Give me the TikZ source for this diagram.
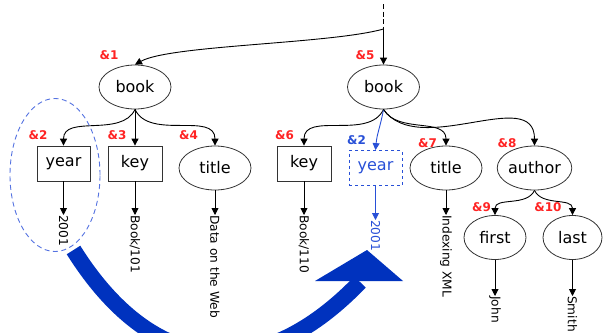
\documentclass[tikz,border=0pt]{standalone}
\usepackage{fontspec}
\setmainfont{DejaVu Sans}
\usetikzlibrary{arrows.meta,positioning,shapes.geometric}
\definecolor{amp}{RGB}{255,35,35}
\definecolor{mv}{RGB}{40,80,215}
\definecolor{ring}{RGB}{85,115,225}
\definecolor{big}{RGB}{0,50,190}
\tikzset{
  xt/.style={x=1pt, y=1pt},
  x el/.style={draw=black!80, line width=0.8pt, ellipse, minimum width=72pt, minimum height=44pt,
               inner sep=0pt, font=\fontsize{16}{16}\selectfont},
  x box/.style={draw=black!80, line width=0.8pt, rectangle, minimum width=53pt, minimum height=35pt,
                inner sep=0pt, font=\fontsize{16}{16}\selectfont},
  x moved/.style={x box, draw=mv, dashed, text=mv},
  x val/.style={rotate=-90, anchor=west, inner sep=0pt, font=\fontsize{12.2}{12.2}\selectfont},
  x id/.style={text=amp, inner sep=0pt, font=\bfseries\fontsize{12}{12}\selectfont},
  x arr/.style={line width=0.9pt, -{Triangle[length=7pt, width=7pt]}},
  x ring/.style={draw=ring, ellipse, line width=0.9pt, dash pattern=on 5pt off 3.5pt, inner sep=0pt},
}

\begin{document}
\begin{tikzpicture}[xt]
\clip (0,0) rectangle (604,-332);
% ---- root ----
\coordinate (rt) at (383.5,-4);
\coordinate (top) at (383.5,-29);
% ---- book &1 ----
\node[x el]  (bk1) at (135,-87) {book};
\node[x box] (yr1) at (63.5,-163.5) {year};
\node[x box, minimum width=54pt] (ky1) at (135,-163.5) {key};
\node[x el]  (tt1) at (215,-168) {title};
\node[x val] (v1) at (63.5,-215) {2001};
\node[x val] (v2) at (135,-215) {Book/101};
\node[x val] (v3) at (215,-215) {Data on the Web};
\node[x id] (n1) at (109,-55.5) {\&1};
\node[x id] (n2) at (38,-135) {\&2};
\node[x id] (n3) at (117,-135) {\&3};
\node[x id] (n4) at (188.5,-135) {\&4};
% ---- book &5 ----
\node[x el]    (bk2) at (383.5,-87) {book};
\node[x box, minimum width=54pt] (ky2) at (304,-163.5) {key};
\node[x moved] (yr2) at (375.5,-168) {year};
\node[x el]    (tt2) at (446,-168) {title};
\node[x el, minimum width=71pt] (au) at (534.5,-168) {author};
\node[x el, minimum width=62pt] (fs) at (495,-237.5) {first};
\node[x el, minimum width=59pt] (ls) at (572.5,-237.5) {last};
\node[x val] (v4) at (304,-215) {Book/110};
\node[x val, text=mv] (v5) at (375.5,-220) {2001};
\node[x val] (v6) at (446,-215) {Indexing XML};
\node[x val] (v7) at (495,-296) {John};
\node[x val] (v8) at (572.5,-296) {Smith};
\node[x id] (n5) at (365,-55.5) {\&5};
\node[x id] (n6) at (284.5,-135) {\&6};
\node[x id, text=mv] (n2b) at (356.5,-140) {\&2};
\node[x id] (n7) at (427.5,-143.5) {\&7};
\node[x id] (n8) at (507,-143.5) {\&8};
\node[x id] (n9) at (481.5,-207) {\&9};
\node[x id] (n10) at (548,-207) {\&10};
% ---- edges ----
\draw[line width=0.9pt, dash pattern=on 5pt off 2.5pt] (rt)--(top);
\draw[x arr] (top)--(bk2.north);
\draw[x arr] (top) .. controls (330,-44) and (170,-45) .. (bk1.north);
\draw[x arr] (bk1.south) to[out=-115, in=90] (yr1.north);
\draw[x arr] (bk1)--(ky1);
\draw[x arr] (bk1.south) to[out=-65, in=90] (tt1.north);
\draw[x arr] (yr1)--(v1); \draw[x arr] (ky1)--(v2); \draw[x arr] (tt1)--(v3);
\draw[x arr] (bk2.south) to[out=-115, in=90] (ky2.north);
\draw[x arr, mv] (bk2.south) to[out=-100, in=85] (yr2.north);
\draw[x arr] (bk2.south) to[out=-60, in=90] (tt2.north);
\draw[x arr] (bk2.south) to[out=-55, in=90] (au.north);
\draw[x arr] (au.south) to[out=-115, in=90] (fs.north);
\draw[x arr] (au.south) to[out=-65, in=90] (ls.north);
\draw[x arr] (ky2)--(v4); \draw[x arr, mv] (yr2)--(v5); \draw[x arr] (tt2)--(v6);
\draw[x arr] (fs)--(v7); \draw[x arr] (ls)--(v8);
% ---- moved subtree ----
\node[x ring, minimum width=90pt, minimum height=153pt] (grp) at (55,-175) {};
\coordinate (sw) at (73.5,-250);
\coordinate (ne) at (360,-282);
\draw[big, line width=16pt] (sw) .. controls (150,-372) and (256.5,-389.5) .. (ne);
\fill[big] (315,-281) -- (367,-250) -- (403,-281) -- cycle;
\end{tikzpicture}
\end{document}
